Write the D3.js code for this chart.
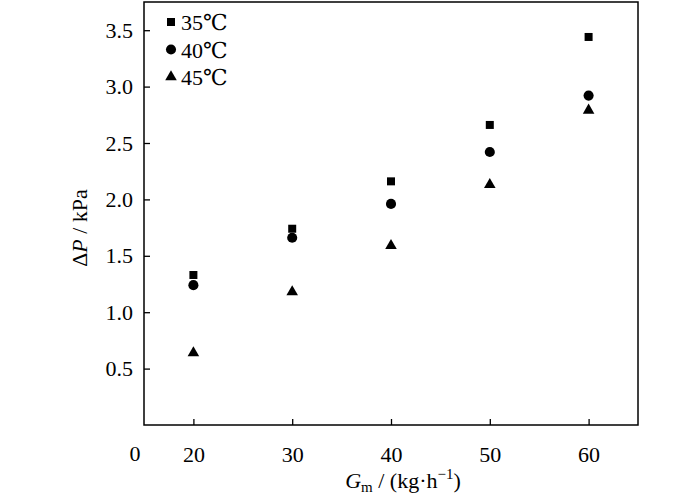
<!DOCTYPE html>
<html>
<head>
<meta charset="utf-8">
<script src="https://cdn.jsdelivr.net/npm/d3@7"></script>
<style>
  body { margin: 0; background: #fff; }
</style>
</head>
<body>
<script>
// data
let flowRates = [20, 30, 40, 50, 60]
let dp35 = [1.33, 1.74, 2.16, 2.66, 3.44]
let dp40 = [1.24, 1.66, 1.96, 2.42, 2.92]
let dp45 = [0.64, 1.18, 1.59, 2.13, 2.79]
let seriesNames = ["35\u2103", "40\u2103", "45\u2103"]
let xTicks = [20, 30, 40, 50, 60]
let yTicks = [0.5, 1.0, 1.5, 2.0, 2.5, 3.0, 3.5]

let serif = "'Liberation Serif', 'DejaVu Serif', serif"
let width = 700
let height = 502
let margin = { left: 144, top: 2, right: 62, bottom: 77 }

let svg = d3.select("body").append("svg")
    .attr("width", width)
    .attr("height", height)

let x = d3.scaleLinear().domain([15, 65]).range([margin.left, width - margin.right])
let y = d3.scaleLinear().domain([0, 3.75]).range([height - margin.bottom, margin.top])

// x axis (ticks point inward)
let xAxis = svg.append("g")
    .attr("transform", "translate(0," + (height - margin.bottom) + ")")
    .call(d3.axisBottom(x).tickValues(xTicks).tickSizeInner(-6).tickSizeOuter(0).tickPadding(21))
xAxis.attr("font-family", null).attr("font-size", null)
xAxis.selectAll("text").style("font-size", "22px").style("font-family", serif).attr("fill", "#000")

let yAxis = svg.append("g")
    .attr("transform", "translate(" + margin.left + ",0)")
    .call(d3.axisLeft(y).tickValues(yTicks).tickFormat(d3.format(".1f")).tickSizeInner(-6).tickSizeOuter(0).tickPadding(11))
yAxis.attr("font-family", null).attr("font-size", null)
yAxis.selectAll("text").style("font-size", "22px").style("font-family", serif).attr("fill", "#000")

svg.selectAll(".domain").remove()
svg.selectAll(".tick line").attr("stroke", "#000").attr("stroke-width", 1.3)

// frame
svg.append("rect")
    .attr("x", x(15))
    .attr("y", y(3.75))
    .attr("width", x(65) - x(15))
    .attr("height", y(0) - y(3.75))
    .attr("fill", "none")
    .attr("stroke", "#000")
    .attr("stroke-width", 1.5)

// origin label
svg.append("text")
    .attr("x", 135)
    .attr("y", 461)
    .attr("text-anchor", "middle")
    .style("font-size", "22px")
    .style("font-family", serif)
    .text("0")

// axis titles
let xt = svg.append("text")
    .attr("x", 403)
    .attr("y", 488)
    .attr("text-anchor", "middle")
    .style("font-size", "22px")
    .style("font-family", serif)
xt.append("tspan").style("font-style", "italic").text("G")
xt.append("tspan").attr("dy", 4).style("font-size", "15px").text("m")
xt.append("tspan").attr("dy", -4).text(" / (kg\u00b7h")
xt.append("tspan").attr("dy", -9).style("font-size", "15px").text("\u22121")
xt.append("tspan").attr("dy", 9).text(")")

let yt = svg.append("text")
    .attr("transform", "translate(87,228) rotate(-90)")
    .attr("text-anchor", "middle")
    .style("font-size", "22px")
    .style("font-family", serif)
yt.append("tspan").text("\u0394")
yt.append("tspan").style("font-style", "italic").text("P")
yt.append("tspan").text(" / kPa")

// points
let series = [
    { name: seriesNames[0], values: dp35, symbol: d3.symbolSquare, size: 64 },
    { name: seriesNames[1], values: dp40, symbol: d3.symbolCircle, size: 80 },
    { name: seriesNames[2], values: dp45, symbol: d3.symbolTriangle, size: 58 }
]

series.forEach(s => {
    svg.append("g").selectAll("path")
        .data(s.values).enter()
        .append("path")
        .attr("d", d3.symbol().type(s.symbol).size(s.size))
        .attr("transform", (d, i) => "translate(" + x(flowRates[i]) + "," + y(d) + ")")
        .attr("fill", "#000")
})

// legend
let legend = svg.append("g")
series.forEach((s, i) => {
    let ly = 22 + i * 27.5
    legend.append("path")
        .attr("d", d3.symbol().type(s.symbol).size(s.size))
        .attr("transform", "translate(171," + ly + ")")
        .attr("fill", "#000")
    legend.append("text")
        .attr("x", 181)
        .attr("y", ly + 8)
        .style("font-size", "22px")
        .style("font-family", serif)
        .text(s.name)
})
</script>
</body>
</html>
